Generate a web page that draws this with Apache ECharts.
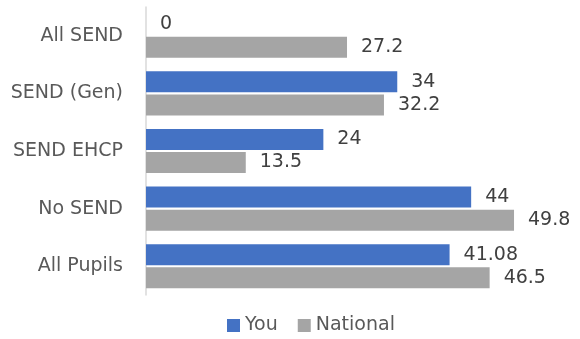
<!DOCTYPE html>
<html>
<head>
<meta charset="utf-8">
<script src="https://cdn.jsdelivr.net/npm/echarts@6/dist/echarts.min.js"></script>
<style>html,body{margin:0;padding:0;background:#fff}#c{width:580px;height:339px}</style>
</head>
<body>
<div id="c"></div>
<script>
const categories = ['All SEND', 'SEND (Gen)', 'SEND EHCP', 'No SEND', 'All Pupils'];
const seriesNames = ['You', 'National'];
const youValues = [0, 34, 24, 44, 41.08];
const nationalValues = [27.2, 32.2, 13.5, 49.8, 46.5];

const FONT = 'DejaVu Sans';
const chart = echarts.init(document.getElementById('c'), null, {renderer: 'canvas'});
const labelOpt = {
  show: true, position: 'right', distance: 14,
  color: '#404040', fontSize: 19, fontFamily: FONT
};
chart.setOption({
  animation: false,
  textStyle: {fontFamily: FONT},
  grid: {left: 146, right: 64.5, top: 7, bottom: 44, containLabel: false},
  legend: {
    data: seriesNames, left: 227, top: 316, padding: 0, itemWidth: 13, itemHeight: 13, itemGap: 20,
    icon: 'rect',
    textStyle: {color: '#595959', fontSize: 19, fontFamily: FONT}
  },
  xAxis: {
    type: 'value', min: 0, max: 50, show: false,
    splitLine: {show: false}
  },
  yAxis: {
    type: 'category', data: categories, inverse: true,
    axisLine: {show: true, lineStyle: {color: '#d9d9d9', width: 1.5}},
    axisTick: {show: false},
    axisLabel: {color: '#595959', fontSize: 19, fontFamily: FONT, margin: 23}
  },
  series: [
    {name: seriesNames[0], type: 'bar', data: youValues, barWidth: 21, barGap: '10%',
     itemStyle: {color: '#4472C4'}, label: labelOpt},
    {name: seriesNames[1], type: 'bar', data: nationalValues, barWidth: 21, barGap: '10%',
     itemStyle: {color: '#A5A5A5'}, label: labelOpt}
  ]
});
</script>
</body>
</html>
